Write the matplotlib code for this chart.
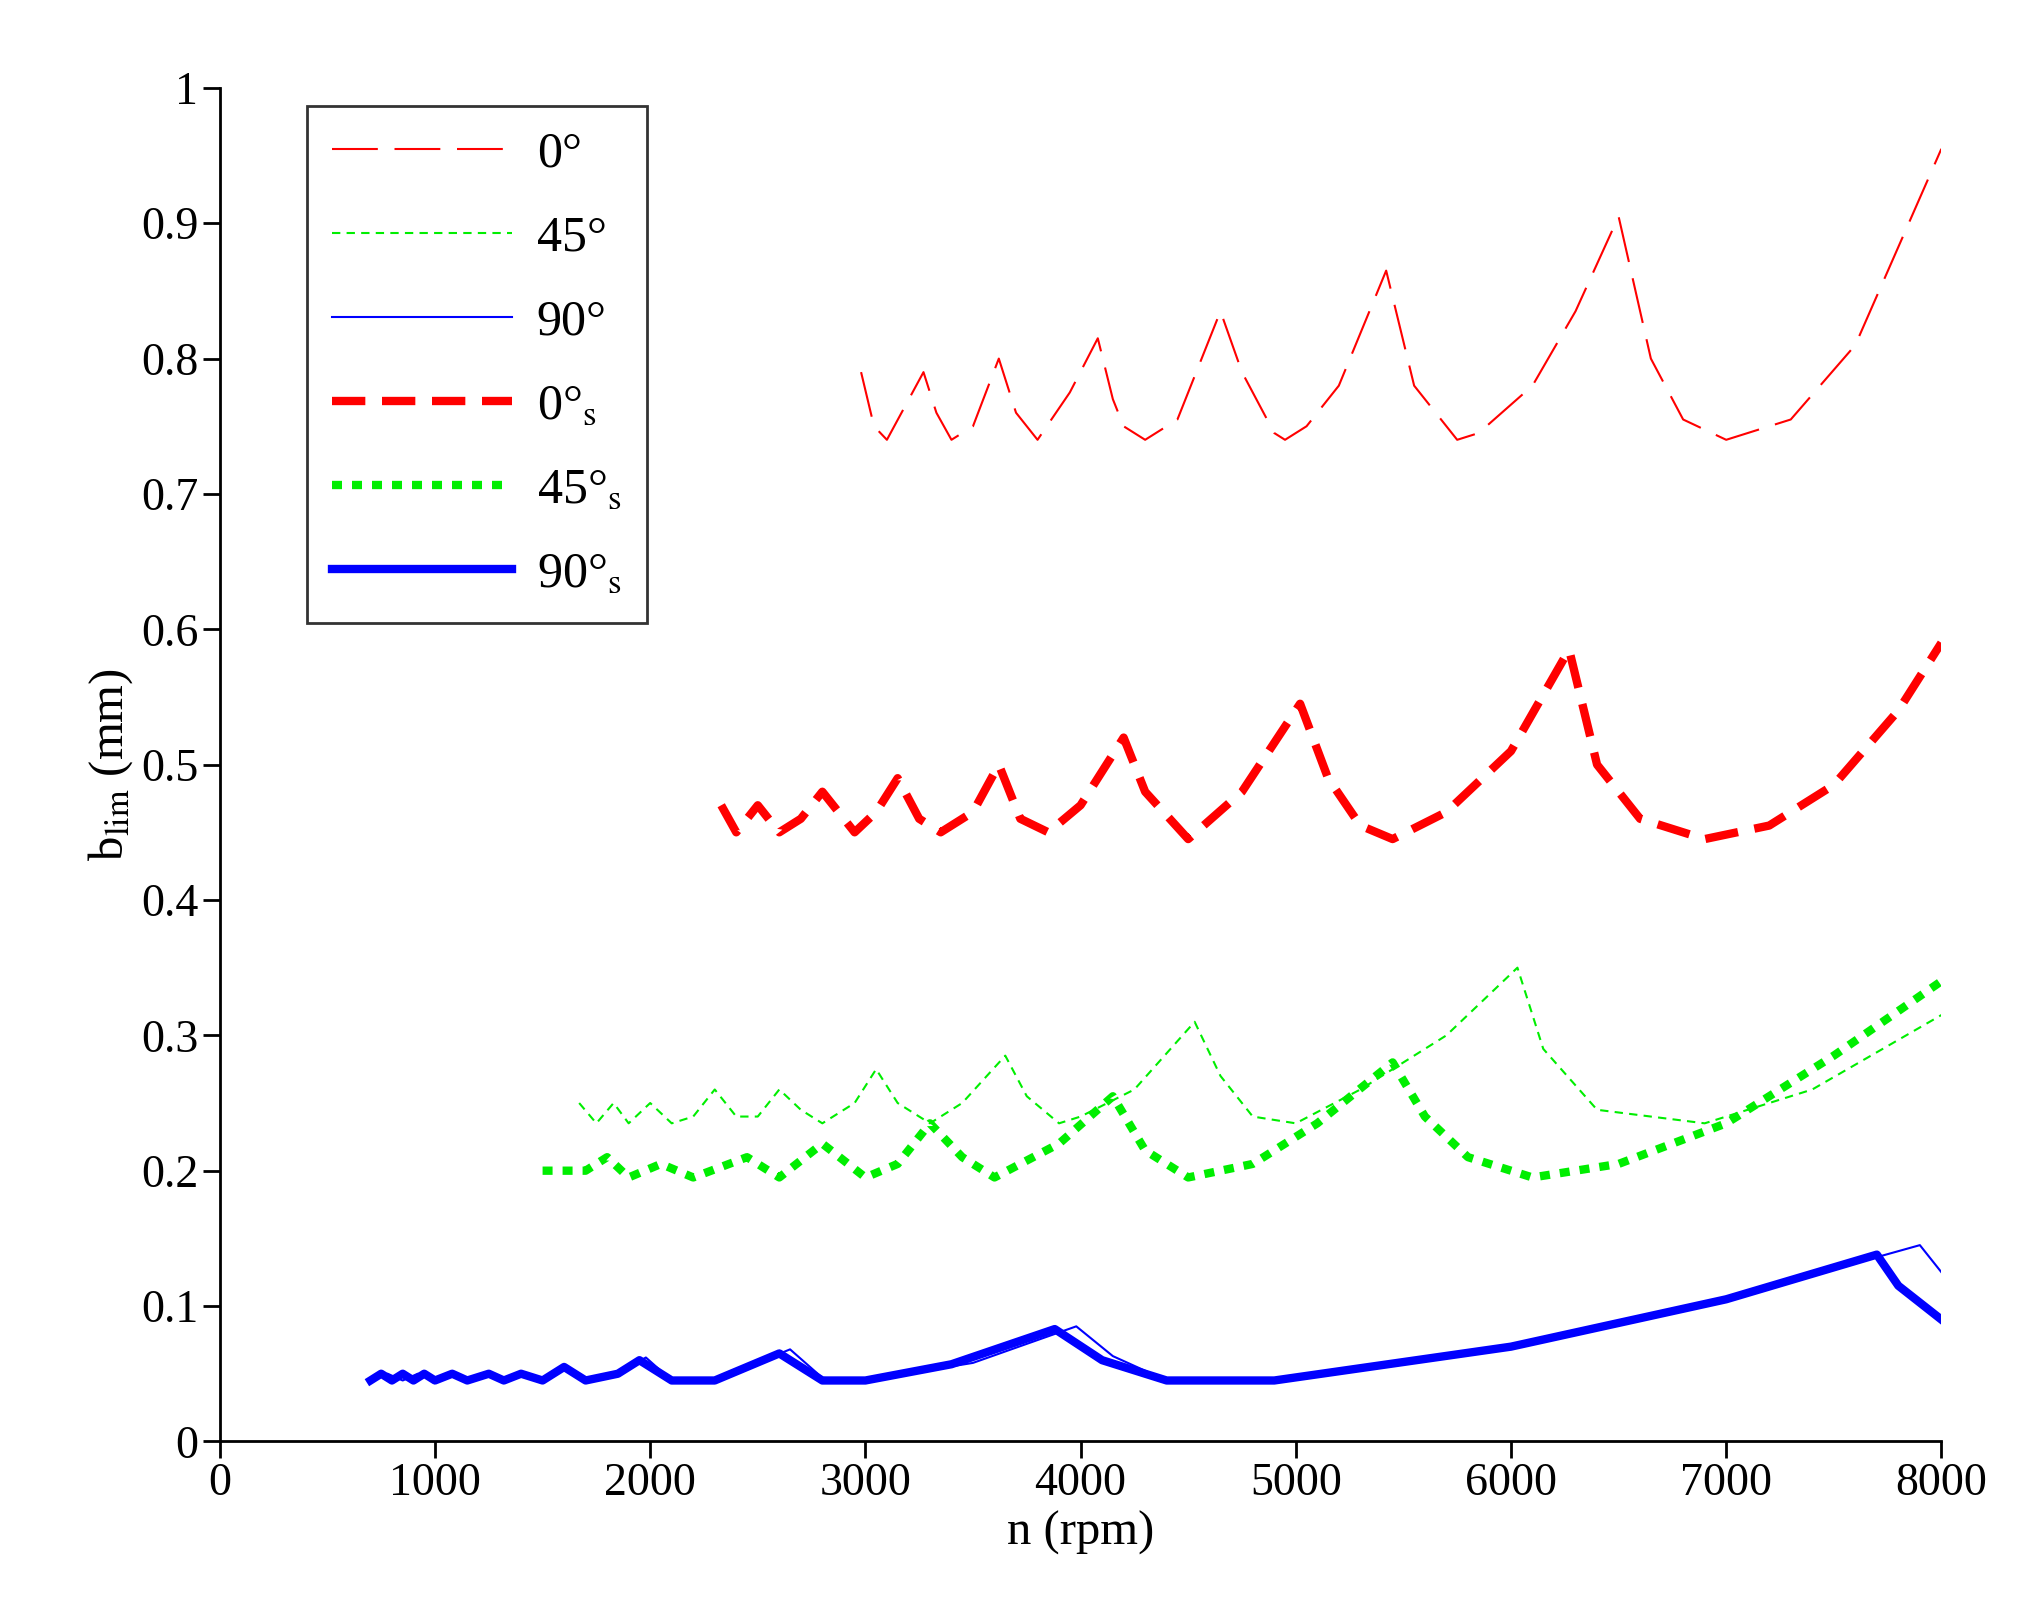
import matplotlib.pyplot as plt

plt.rcParams['font.family'] = ['Liberation Serif', 'DejaVu Serif']
plt.rcParams['mathtext.fontset'] = 'stix'

# 0 deg, thin
n0 = [2980, 3040, 3100, 3270, 3330, 3400, 3500, 3620, 3700, 3800, 3950, 4080, 4150, 4200, 4300, 4450, 4650, 4750, 4900, 4950, 5050, 5200, 5420, 5550, 5750, 5850, 6100, 6300, 6500, 6650, 6800, 7000, 7300, 7600, 8000]
b0 = [0.79, 0.75, 0.74, 0.79, 0.76, 0.74, 0.75, 0.80, 0.76, 0.74, 0.775, 0.815, 0.77, 0.75, 0.74, 0.755, 0.835, 0.79, 0.745, 0.74, 0.75, 0.78, 0.865, 0.78, 0.74, 0.745, 0.78, 0.835, 0.905, 0.80, 0.755, 0.74, 0.755, 0.81, 0.955]
# 0 deg, s
n0s = [2330, 2400, 2500, 2600, 2700, 2800, 2950, 3050, 3150, 3250, 3350, 3500, 3620, 3720, 3850, 4000, 4200, 4300, 4500, 4750, 5020, 5150, 5300, 5450, 5700, 6000, 6270, 6400, 6600, 6900, 7200, 7500, 7800, 8000]
b0s = [0.47, 0.45, 0.47, 0.45, 0.46, 0.48, 0.45, 0.465, 0.49, 0.46, 0.45, 0.465, 0.50, 0.46, 0.45, 0.47, 0.52, 0.48, 0.445, 0.48, 0.545, 0.49, 0.455, 0.445, 0.465, 0.51, 0.585, 0.50, 0.46, 0.445, 0.455, 0.485, 0.54, 0.59]
# 45 deg, thin
n45 = [1670, 1750, 1830, 1900, 2000, 2100, 2200, 2300, 2400, 2500, 2600, 2700, 2800, 2950, 3050, 3150, 3300, 3450, 3650, 3750, 3900, 4000, 4250, 4530, 4650, 4800, 5000, 5300, 5700, 6030, 6150, 6400, 6900, 7400, 8000]
b45 = [0.25, 0.235, 0.25, 0.235, 0.25, 0.235, 0.24, 0.26, 0.24, 0.24, 0.26, 0.245, 0.235, 0.25, 0.275, 0.25, 0.235, 0.25, 0.285, 0.255, 0.235, 0.24, 0.26, 0.31, 0.27, 0.24, 0.235, 0.26, 0.30, 0.35, 0.29, 0.245, 0.235, 0.26, 0.315]
# 45 deg, s
n45s = [1500, 1700, 1800, 1900, 2050, 2200, 2450, 2600, 2800, 3000, 3150, 3300, 3450, 3600, 3900, 4150, 4300, 4500, 4800, 5100, 5450, 5600, 5800, 6100, 6500, 7000, 7500, 8000]
b45s = [0.20, 0.20, 0.21, 0.195, 0.205, 0.195, 0.21, 0.195, 0.22, 0.195, 0.205, 0.235, 0.21, 0.195, 0.22, 0.255, 0.215, 0.195, 0.205, 0.235, 0.28, 0.24, 0.21, 0.195, 0.205, 0.235, 0.285, 0.34]
# 90 deg, thin
n90 = [700, 780, 850, 920, 1000, 1080, 1150, 1250, 1320, 1400, 1500, 1600, 1700, 1850, 1980, 2100, 2300, 2650, 2800, 3000, 3500, 3980, 4150, 4400, 4900, 6000, 7000, 7900, 8000]
b90 = [0.045, 0.05, 0.045, 0.05, 0.045, 0.05, 0.045, 0.05, 0.045, 0.05, 0.045, 0.055, 0.045, 0.05, 0.062, 0.045, 0.045, 0.068, 0.047, 0.045, 0.058, 0.085, 0.063, 0.045, 0.045, 0.07, 0.105, 0.145, 0.125]
# 90 deg, s
n90s = [700, 750, 800, 850, 900, 950, 1000, 1080, 1150, 1250, 1320, 1400, 1500, 1600, 1700, 1850, 1950, 2100, 2300, 2600, 2800, 3000, 3400, 3880, 4100, 4400, 4900, 6000, 7000, 7700, 7800, 8000]
b90s = [0.045, 0.05, 0.045, 0.05, 0.045, 0.05, 0.045, 0.05, 0.045, 0.05, 0.045, 0.05, 0.045, 0.055, 0.045, 0.05, 0.06, 0.045, 0.045, 0.065, 0.045, 0.045, 0.057, 0.083, 0.06, 0.045, 0.045, 0.07, 0.105, 0.138, 0.115, 0.09]

fig = plt.figure(figsize=(20.35, 15.98), dpi=100)
ax = fig.add_axes([0.108, 0.098, 0.846, 0.847])

ax.plot(n0, b0, color='red', lw=1.5, dashes=(22, 8), label='0°')
ax.plot(n45, b45, color='#00ee00', lw=1.5, dashes=(4, 3), label='45°')
ax.plot(n90, b90, color='blue', lw=1.5, label='90°')
ax.plot(n0s, b0s, color='red', lw=6, dashes=(4, 2), label='0°$_\\mathrm{s}$')
ax.plot(n45s, b45s, color='#00ee00', lw=6, dashes=(1.2, 1.2), label='45°$_\\mathrm{s}$')
ax.plot(n90s, b90s, color='blue', lw=6, label='90°$_\\mathrm{s}$')

ax.set_xlim(0, 8000)
ax.set_ylim(0, 1)
ax.set_xticks(range(0, 8001, 1000))
ax.set_yticks([i / 10 for i in range(11)])
ax.set_yticklabels(['0', '0.1', '0.2', '0.3', '0.4', '0.5', '0.6', '0.7', '0.8', '0.9', '1'])
ax.tick_params(labelsize=33, width=2, length=12)
for s in ['top', 'right']:
    ax.spines[s].set_visible(False)
for s in ['left', 'bottom']:
    ax.spines[s].set_linewidth(2)
ax.set_xlabel('n (rpm)', fontsize=35, labelpad=4)
ax.set_ylabel('b$_\\mathrm{lim}$ (mm)', fontsize=35)

leg = ax.legend(loc='upper left', bbox_to_anchor=(0.036, 1.005), fontsize=36, frameon=True,
                fancybox=False, edgecolor='black', handlelength=3.6, labelspacing=0.75,
                handletextpad=0.5, borderpad=0.5)
leg.get_frame().set_linewidth(2)

fig.savefig('out.png')
